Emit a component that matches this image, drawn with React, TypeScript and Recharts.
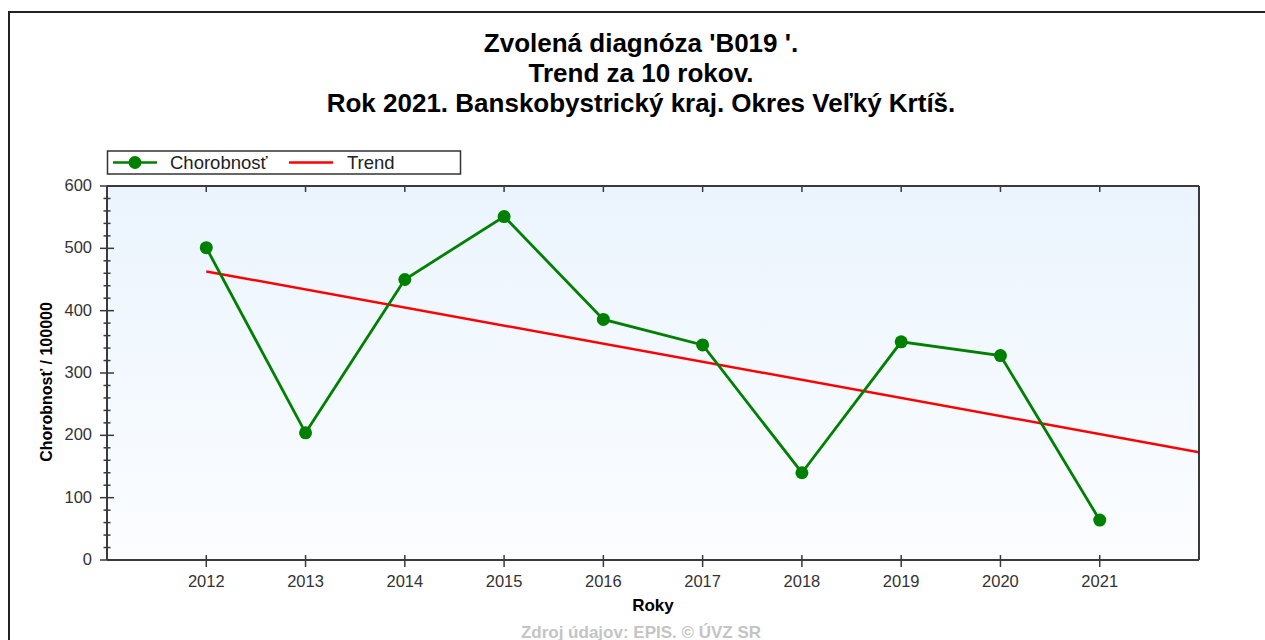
import React from 'react';
import { LineChart, Line, XAxis, YAxis, CartesianGrid } from 'recharts';

const years = [2012, 2013, 2014, 2015, 2016, 2017, 2018, 2019, 2020, 2021];
const chorobnost = [501, 204, 450, 551, 386, 345, 140, 350, 328, 64];
const trendYears = [2012, 2022];
const trendValues = [463, 173];
const yTicks = [0, 20, 40, 60, 80, 100, 120, 140, 160, 180, 200, 220, 240, 260, 280, 300, 320, 340, 360, 380, 400, 420, 440, 460, 480, 500, 520, 540, 560, 580, 600];
const titleLines = ["Zvolená diagnóza 'B019 '.", 'Trend za 10 rokov.', 'Rok 2021. Banskobystrický kraj. Okres Veľký Krtíš.'];

const data = years.map((y, i) => ({ year: y, chorobnost: chorobnost[i] }));
const trendData = trendYears.map((y, i) => ({ year: y, trend: trendValues[i] }));

const FONT = 'Arial, "Liberation Sans", sans-serif';
const AXIS = '#3a3a3a';
const LABEL = '#333';

const BottomTick = (props: any) => {
  const { x, y, payload } = props;
  return (
    <g>
      <line x1={x} x2={x} y1={y - 5} y2={y + 7} stroke={AXIS} strokeWidth={1.5} />
      <text x={x} y={y + 21} textAnchor="middle" dominantBaseline="central" fontFamily={FONT} fontSize={16.5} fill={LABEL}>
        {payload.value}
      </text>
    </g>
  );
};

const TopTick = (props: any) => {
  const { x, y } = props;
  return <line x1={x} x2={x} y1={y} y2={y + 6} stroke={AXIS} strokeWidth={1.5} />;
};

const LeftTick = (props: any) => {
  const { x, y, payload } = props;
  const major = payload.value % 100 === 0;
  const len = major ? 7 : 3.5;
  return (
    <g>
      <line x1={x - len} x2={x + len} y1={y} y2={y} stroke={AXIS} strokeWidth={1.5} />
      {major && (
        <text x={x - 15} y={y - 1} textAnchor="end" dominantBaseline="central" fontFamily={FONT} fontSize={16.5} fill={LABEL}>
          {payload.value}
        </text>
      )}
    </g>
  );
};

const RightTick = (props: any) => {
  const { x, y, payload } = props;
  const major = payload.value % 100 === 0;
  const len = major ? 7 : 3.5;
  return (
    <g>
      <line x1={x - len} x2={x + len} y1={y} y2={y} stroke={AXIS} strokeWidth={1.5} />
      {major && (
        <text x={x + 13} y={y - 1} textAnchor="start" dominantBaseline="central" fontFamily={FONT} fontSize={16.5} fill={LABEL}>
          {payload.value}
        </text>
      )}
    </g>
  );
};

export default function App() {
  return (
    <div style={{ position: 'absolute', left: 0, top: 0, width: 1265, height: 640, background: '#fff', overflow: 'hidden' }}>
      <LineChart width={1265} height={640} margin={{ top: 185, right: 16, bottom: 50, left: 57 }}>
        <defs>
          <linearGradient id="bgGrad" x1="0" y1="0" x2="0" y2="1">
            <stop offset="0%" stopColor="#ebf4fd" />
            <stop offset="75%" stopColor="#f7fbff" />
            <stop offset="100%" stopColor="#fcfdff" />
          </linearGradient>
        </defs>
        <CartesianGrid horizontal={false} vertical={false} fill="url(#bgGrad)" stroke="none" />
        <XAxis
          dataKey="year"
          type="number"
          domain={[2011, 2022]}
          ticks={years}
          allowDataOverflow
          height={30}
          tickSize={0}
          tickMargin={0}
          tickLine={false}
          axisLine={{ stroke: AXIS, strokeWidth: 2 }}
          tick={<BottomTick />}
          interval={0}
        />
        <XAxis
          xAxisId="top"
          orientation="top"
          dataKey="year"
          type="number"
          domain={[2011, 2022]}
          ticks={years}
          allowDataOverflow
          height={1}
          tickSize={0}
          tickMargin={0}
          tickLine={false}
          axisLine={{ stroke: AXIS, strokeWidth: 2 }}
          tick={<TopTick />}
          interval={0}
        />
        <YAxis
          domain={[0, 600]}
          ticks={yTicks}
          width={50}
          tickSize={0}
          tickMargin={0}
          tickLine={false}
          axisLine={{ stroke: AXIS, strokeWidth: 2 }}
          tick={<LeftTick />}
          interval={0}
        />
        <YAxis
          yAxisId="right"
          orientation="right"
          domain={[0, 600]}
          ticks={yTicks}
          width={50}
          tickSize={0}
          tickMargin={0}
          tickLine={false}
          axisLine={{ stroke: AXIS, strokeWidth: 2 }}
          tick={<RightTick />}
          interval={0}
        />
        <Line
          data={trendData}
          dataKey="trend"
          stroke="#ff0000"
          strokeWidth={2.5}
          dot={false}
          isAnimationActive={false}
        />
        <Line
          data={data}
          dataKey="chorobnost"
          stroke="#008000"
          strokeWidth={2.8}
          dot={{ r: 6.5, fill: '#008000', stroke: '#008000', strokeWidth: 0 }}
          isAnimationActive={false}
        />
      </LineChart>
      <svg width={1265} height={640} style={{ position: 'absolute', left: 0, top: 0, pointerEvents: 'none' }}>
        <polyline points="9,640 9,12 1265,12" fill="none" stroke="#222" strokeWidth={2} />
        {titleLines.map((t, i) => (
          <text key={i} x={641} y={43 + i * 30} textAnchor="middle" dominantBaseline="central" fontFamily={FONT} fontWeight="bold" fontSize={26} fill="#000">
            {t}
          </text>
        ))}
        <rect x={107.5} y={151} width={353} height={23} fill="#fff" stroke="#333" strokeWidth={1.5} />
        <line x1={113} x2={157} y1={162.5} y2={162.5} stroke="#008000" strokeWidth={2.5} />
        <circle cx={135} cy={162.5} r={6.5} fill="#008000" />
        <text x={170} y={162.5} dominantBaseline="central" fontFamily={FONT} fontSize={18.5} fill="#222">Chorobnosť</text>
        <line x1={289} x2={333} y1={162.5} y2={162.5} stroke="#ff0000" strokeWidth={2.5} />
        <text x={347} y={162.5} dominantBaseline="central" fontFamily={FONT} fontSize={18.5} fill="#222">Trend</text>
        <text x={46} y={382} transform="rotate(-90 46 382)" textAnchor="middle" dominantBaseline="central" fontFamily={FONT} fontWeight="bold" fontSize={16} fill="#000">
          Chorobnosť / 100000
        </text>
        <text x={653} y={605} textAnchor="middle" dominantBaseline="central" fontFamily={FONT} fontWeight="bold" fontSize={17} fill="#000">Roky</text>
        <text x={641} y={632} textAnchor="middle" dominantBaseline="central" fontFamily={FONT} fontWeight="bold" fontSize={17} fill="#c4c4c4">Zdroj údajov: EPIS. © ÚVZ SR</text>
      </svg>
    </div>
  );
}
